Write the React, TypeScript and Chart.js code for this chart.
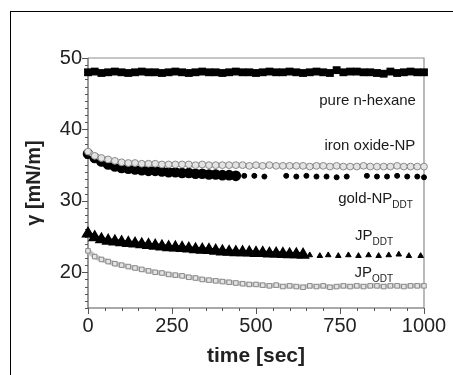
import React, { useEffect, useRef } from 'react';
import { Chart, registerables } from 'chart.js';
Chart.register(...registerables);

const FONT = "'Liberation Sans', Arial, sans-serif";

// time axis (sec) for the dense recordings, one reading every 20 s
const T_FULL = [0, 20, 40, 60, 80, 100, 120, 140, 160, 180, 200, 220, 240, 260, 280, 300, 320, 340, 360, 380, 400, 420, 440, 460, 480, 500, 520, 540, 560, 580, 600, 620, 640, 660, 680, 700, 720, 740, 760, 780, 800, 820, 840, 860, 880, 900, 920, 940, 960, 980, 1000];

const HEXANE = [48.0, 48.1, 47.9, 48.0, 48.1, 48.0, 47.9, 48.0, 48.1, 48.0, 48.0, 47.9, 48.0, 48.1, 48.0, 47.9, 48.0, 48.1, 48.0, 48.0, 47.9, 48.0, 48.1, 48.0, 48.0, 47.9, 48.0, 48.1, 48.0, 48.0, 48.1, 48.0, 47.9, 48.0, 48.1, 48.0, 47.9, 48.3, 48.0, 48.1, 48.1, 48.0, 48.0, 47.9, 47.8, 48.1, 47.9, 48.0, 48.1, 48.0, 48.0];

const IRON = [36.9, 36.3, 36.0, 35.8, 35.6, 35.4, 35.3, 35.3, 35.2, 35.2, 35.2, 35.1, 35.1, 35.1, 35.1, 35.1, 35.0, 35.1, 35.0, 35.0, 35.0, 35.0, 35.0, 35.0, 34.9, 35.0, 34.9, 35.0, 34.9, 34.9, 34.9, 34.9, 34.9, 34.8, 34.9, 34.9, 34.8, 34.9, 34.8, 34.8, 34.8, 34.9, 34.8, 34.8, 34.8, 34.8, 34.9, 34.8, 34.8, 34.8, 34.8];

const T_GOLD = [0, 20, 40, 60, 80, 100, 120, 140, 160, 180, 200, 220, 240, 260, 280, 300, 320, 340, 360, 380, 400, 420, 440];
const GOLD = [36.6, 36.0, 35.5, 35.1, 34.8, 34.6, 34.5, 34.4, 34.3, 34.2, 34.2, 34.1, 34.0, 34.0, 33.9, 33.9, 33.8, 33.8, 33.7, 33.7, 33.6, 33.6, 33.5];
const T_GOLD_SPARSE = [465, 495, 525, 590, 620, 650, 680, 710, 740, 770, 830, 860, 890, 920, 950, 980, 1000];
const GOLD_SPARSE = [33.5, 33.5, 33.4, 33.5, 33.4, 33.5, 33.4, 33.4, 33.3, 33.4, 33.5, 33.4, 33.4, 33.5, 33.4, 33.4, 33.3];

const T_JPDDT = [0, 20, 40, 60, 80, 100, 120, 140, 160, 180, 200, 220, 240, 260, 280, 300, 320, 340, 360, 380, 400, 420, 440, 460, 480, 500, 520, 540, 560, 580, 600, 620, 640];
const JP_DDT = [25.4, 24.9, 24.6, 24.4, 24.3, 24.2, 24.1, 24.0, 23.9, 23.8, 23.7, 23.6, 23.5, 23.45, 23.4, 23.3, 23.2, 23.15, 23.1, 23.0, 22.9, 22.85, 22.8, 22.8, 22.75, 22.7, 22.7, 22.6, 22.6, 22.55, 22.5, 22.5, 22.45];
const T_JPDDT_SPARSE = [660, 690, 715, 745, 775, 805, 835, 865, 895, 925, 955, 990];
const JP_DDT_SPARSE = [22.4, 22.3, 22.4, 22.3, 22.4, 22.3, 22.4, 22.3, 22.4, 22.5, 22.3, 22.3];

const JP_ODT = [23.0, 22.2, 21.8, 21.5, 21.2, 21.0, 20.8, 20.6, 20.4, 20.2, 20.0, 19.9, 19.7, 19.6, 19.5, 19.3, 19.2, 19.0, 18.9, 18.8, 18.7, 18.6, 18.5, 18.4, 18.3, 18.3, 18.2, 18.1, 18.2, 18.0, 18.1, 18.0, 17.9, 18.1, 18.0, 18.1, 17.9, 18.0, 18.1, 18.0, 18.1, 18.0, 18.1, 18.1, 18.0, 18.1, 18.1, 18.0, 18.1, 18.1, 18.1];

const X_TICKS = [0, 250, 500, 750, 1000];
const Y_TICKS = [20, 30, 40, 50];

// curve labels: main text, subscript, right edge (sec), baseline (mN/m)
const LABEL_TEXT = ['pure n-hexane', 'iron oxide-NP', 'gold-NP', 'JP', 'JP'];
const LABEL_SUB = ['', '', 'DDT', 'DDT', 'ODT'];
const LABEL_X = [976, 974, 967, 908, 908];
const LABEL_Y = [43.4, 37.1, 29.7, 24.5, 19.3];

const pts = (xs: number[], ys: number[]) => xs.map((x, i) => ({ x, y: ys[i] }));

const framePlugin = {
  id: 'frame',
  beforeDatasetsDraw(chart: any) {
    const { ctx, chartArea, scales } = chart;
    const { left, right, top, bottom } = chartArea;
    const xs = scales.x;
    const ys = scales.y;
    ctx.save();
    ctx.lineWidth = 1.2;
    ctx.strokeStyle = '#8e8e8e';
    ctx.beginPath();
    ctx.moveTo(left, top);
    ctx.lineTo(right, top);
    ctx.lineTo(right, bottom);
    ctx.stroke();
    ctx.strokeStyle = '#555';
    ctx.beginPath();
    ctx.moveTo(left, top);
    ctx.lineTo(left, bottom);
    ctx.lineTo(right, bottom);
    ctx.stroke();
    ctx.lineWidth = 1;
    ctx.beginPath();
    for (let v = ys.min; v <= ys.max; v += 1) {
      const py = Math.round(ys.getPixelForValue(v)) + 0.5;
      const len = v % 10 === 0 ? 6 : 3;
      ctx.moveTo(left - len, py);
      ctx.lineTo(left, py);
    }
    for (let v = xs.min; v <= xs.max; v += 50) {
      const px = Math.round(xs.getPixelForValue(v)) + 0.5;
      const len = v % 250 === 0 ? 6 : 3;
      ctx.moveTo(px, bottom);
      ctx.lineTo(px, bottom + len);
    }
    ctx.stroke();
    ctx.restore();
  },
};

const labelPlugin = {
  id: 'curveLabels',
  afterDatasetsDraw(chart: any) {
    const { ctx, scales } = chart;
    ctx.save();
    ctx.fillStyle = '#1a1a1a';
    ctx.textBaseline = 'alphabetic';
    LABEL_TEXT.forEach((txt, i) => {
      const rx = scales.x.getPixelForValue(LABEL_X[i]);
      const by = scales.y.getPixelForValue(LABEL_Y[i]);
      ctx.font = `10px ${FONT}`;
      const subW = LABEL_SUB[i] ? ctx.measureText(LABEL_SUB[i]).width : 0;
      ctx.font = `15px ${FONT}`;
      ctx.textAlign = 'right';
      ctx.fillText(txt, rx - subW, by);
      if (LABEL_SUB[i]) {
        ctx.font = `10px ${FONT}`;
        ctx.textAlign = 'left';
        ctx.fillText(LABEL_SUB[i], rx - subW, by + 5);
      }
    });
    ctx.restore();
  },
};

const openStyle = {
  showLine: true,
  borderColor: '#c4c4c4',
  borderWidth: 5,
  pointRadius: 3.4,
  pointBorderWidth: 1,
  pointBorderColor: '#8a8a8a',
  pointBackgroundColor: '#e4e4e4',
  clip: false,
};

export default function App() {
  const ref = useRef<HTMLCanvasElement>(null);
  useEffect(() => {
    const chart = new Chart(ref.current as HTMLCanvasElement, {
      type: 'scatter',
      data: {
        datasets: [
          { data: pts(T_FULL, HEXANE), showLine: true, borderColor: '#000', borderWidth: 5, pointStyle: 'rect', pointRadius: 2, pointBackgroundColor: '#000', pointBorderColor: '#000', clip: false } as any,
          { data: pts(T_FULL, IRON), ...openStyle, pointStyle: 'circle' } as any,
          { data: pts(T_GOLD, GOLD), showLine: true, borderColor: '#000', borderWidth: 5, pointStyle: 'circle', pointRadius: 2.8, pointBackgroundColor: '#000', pointBorderColor: '#000', clip: false } as any,
          { data: pts(T_GOLD_SPARSE, GOLD_SPARSE), showLine: false, pointStyle: 'circle', pointRadius: 2.5, pointBackgroundColor: '#000', pointBorderColor: '#000', clip: false } as any,
          { data: pts(T_JPDDT, JP_DDT), showLine: true, borderColor: '#000', borderWidth: 5, pointStyle: 'triangle', pointRadius: 2.8, pointBackgroundColor: '#000', pointBorderColor: '#000', clip: false } as any,
          { data: pts(T_JPDDT_SPARSE, JP_DDT_SPARSE), showLine: false, pointStyle: 'triangle', pointRadius: 3.2, pointBackgroundColor: '#000', pointBorderColor: '#000', clip: false } as any,
          { data: pts(T_FULL, JP_ODT), ...openStyle, pointStyle: 'rect', pointRadius: 3.2 } as any,
        ],
      },
      options: {
        responsive: false,
        animation: false,
        events: [],
        layout: { padding: { top: 58, right: 29, bottom: 0, left: 0 } },
        plugins: { legend: { display: false }, tooltip: { enabled: false } },
        scales: {
          x: {
            type: 'linear',
            min: 0,
            max: 1000,
            afterBuildTicks: (s: any) => { s.ticks = X_TICKS.map((v) => ({ value: v })); },
            afterFit: (s: any) => { s.height = 67; },
            grid: { display: false, drawTicks: false },
            border: { display: false },
            ticks: { font: { family: FONT, size: 20 }, color: '#222', padding: 6, maxRotation: 0, autoSkip: false, callback: (v: any) => String(v) },
            title: { display: true, text: 'time [sec]', font: { family: FONT, size: 21, weight: 'bold' }, color: '#222', padding: { top: 0, bottom: 6 } },
          },
          y: {
            type: 'linear',
            min: 15,
            max: 50,
            afterBuildTicks: (s: any) => { s.ticks = Y_TICKS.map((v) => ({ value: v })); },
            afterFit: (s: any) => { s.width = 88; },
            grid: { display: false, drawTicks: false },
            border: { display: false },
            ticks: { font: { family: FONT, size: 20 }, color: '#222', padding: 6, callback: (v: any) => String(v) },
            title: { display: true, text: 'γ [mN/m]', font: { family: FONT, size: 20, weight: 'bold' }, color: '#222', padding: { top: 22, bottom: 0 } },
          },
        },
      } as any,
      plugins: [framePlugin, labelPlugin],
    });
    return () => chart.destroy();
  }, []);
  return (
    <div style={{ position: 'fixed', left: 0, top: 0, width: 453, height: 375, overflow: 'hidden', background: '#fff' }}>
      <div style={{ position: 'absolute', left: 10, top: 11, right: 0, bottom: 0, borderLeft: '1.5px solid #000', borderTop: '1.5px solid #000' }} />
      <canvas ref={ref} width={453} height={375} style={{ position: 'absolute', left: 0, top: 0 }} />
    </div>
  );
}
